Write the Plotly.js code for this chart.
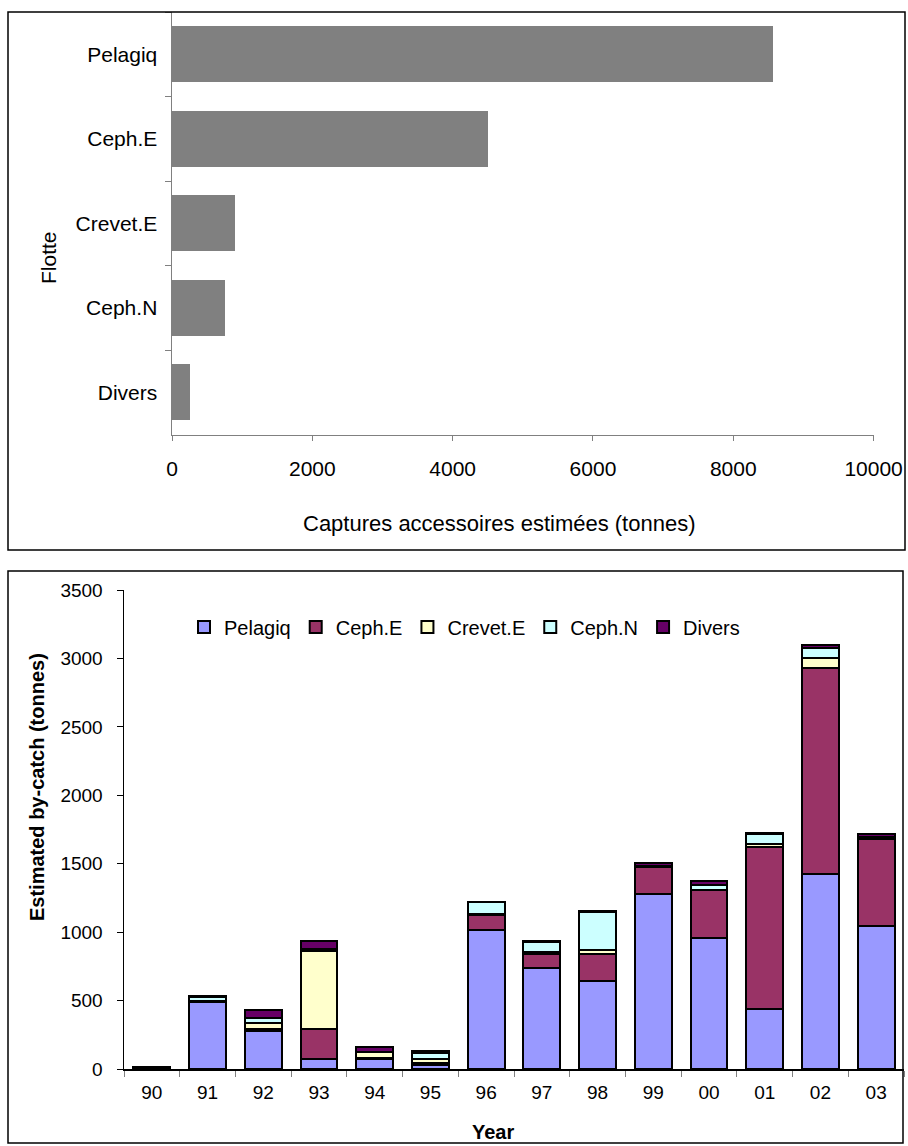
<!DOCTYPE html>
<html>
<head>
<meta charset="utf-8">
<script src="https://cdn.plot.ly/plotly-3.0.1.min.js"></script>
<style>
  html, body { margin: 0; padding: 0; background: #ffffff; }
  #chart { width: 908px; height: 1146px; }
</style>
</head>
<body>
<div id="chart"></div>
<script>
// Fleet totals (upper chart)
const fleets = ['Pelagiq', 'Ceph.E', 'Crevet.E', 'Ceph.N', 'Divers'];
const fleetTotals = [8560, 4510, 895, 750, 262];

// Yearly by-catch per fleet (lower chart)
const years = ['90', '91', '92', '93', '94', '95', '96', '97', '98', '99', '00', '01', '02', '03'];
const pelagiq = [8, 492, 280, 71, 73, 30, 1016, 736, 646, 1279, 955, 436, 1425, 1045];
const cephE   = [4, 3, 10, 219, 5, 12, 109, 104, 194, 195, 351, 1188, 1503, 635];
const crevetE = [0, 0, 45, 574, 44, 32, 5, 15, 30, 5, 3, 20, 73, 5];
const cephN   = [2, 33, 35, 15, 0, 42, 90, 75, 280, 5, 33, 75, 73, 10];
const divers  = [1, 2, 60, 58, 36, 15, 3, 3, 5, 20, 34, 8, 24, 20];

const seriesNames  = ['Pelagiq', 'Ceph.E', 'Crevet.E', 'Ceph.N', 'Divers'];
const seriesValues = [pelagiq, cephE, crevetE, cephN, divers];
const seriesColors = ['#9999FF', '#993366', '#FFFFCC', '#CCFFFF', '#660066'];

const W = 908, H = 1146;
const px = v => v / W;          // pixel -> paper x
const py = v => 1 - v / H;      // pixel -> paper y
const FONT = 'Liberation Sans, Arial, Helvetica, sans-serif';

const traces = [];

traces.push({
  type: 'bar',
  orientation: 'h',
  y: fleets,
  x: fleetTotals,
  xaxis: 'x',
  yaxis: 'y',
  marker: { color: '#808080', line: { width: 0 } },
  showlegend: false,
  hoverinfo: 'skip'
});

seriesNames.forEach((name, i) => {
  traces.push({
    type: 'bar',
    name: name,
    x: years,
    y: seriesValues[i],
    xaxis: 'x2',
    yaxis: 'y2',
    marker: { color: seriesColors[i], line: { color: '#000000', width: 2 } },
    hoverinfo: 'skip'
  });
});

const layout = {
  width: W,
  height: H,
  margin: { l: 0, r: 0, t: 0, b: 0 },
  paper_bgcolor: '#ffffff',
  plot_bgcolor: '#ffffff',
  font: { family: FONT, color: '#000000', size: 19 },
  barmode: 'stack',
  bargap: 0.34,
  showlegend: true,
  legend: {
    orientation: 'h',
    traceorder: 'normal',
    x: px(184),
    xanchor: 'left',
    y: py(627),
    yanchor: 'middle',
    font: { family: FONT, size: 20, color: '#000000' },
    bgcolor: 'rgba(0,0,0,0)'
  },
  // upper chart axes
  xaxis: {
    domain: [px(172), px(873.6)],
    anchor: 'y',
    range: [0, 10000],
    tickvals: [0, 2000, 4000, 6000, 8000, 10000],
    ticktext: ['0', '2000', '4000', '6000', '8000', '10000'],
    showgrid: false,
    zeroline: false,
    showline: true,
    linecolor: '#808080',
    linewidth: 1.5,
    ticks: 'outside',
    ticklen: 5,
    tickcolor: '#808080',
    ticklabelstandoff: 10,
    tickfont: { family: FONT, size: 21, color: '#000000' },
    fixedrange: true
  },
  yaxis: {
    domain: [py(434.6), py(12)],
    anchor: 'x',
    type: 'category',
    autorange: 'reversed',
    showgrid: false,
    zeroline: false,
    showline: true,
    linecolor: '#808080',
    linewidth: 1.5,
    ticks: 'outside',
    tickson: 'boundaries',
    ticklen: 6,
    tickcolor: '#808080',
    ticklabelstandoff: 9,
    tickfont: { family: FONT, size: 21, color: '#000000' },
    fixedrange: true
  },
  // lower chart axes
  xaxis2: {
    domain: [px(124), px(904)],
    anchor: 'y2',
    type: 'category',
    showgrid: false,
    zeroline: false,
    showline: true,
    linecolor: '#000000',
    linewidth: 1.5,
    ticks: 'outside',
    tickson: 'boundaries',
    ticklen: 6,
    tickcolor: '#808080',
    ticklabelstandoff: 6,
    tickfont: { family: FONT, size: 19, color: '#000000' },
    fixedrange: true
  },
  yaxis2: {
    domain: [py(1069), py(590)],
    anchor: 'x2',
    range: [0, 3500],
    dtick: 500,
    tick0: 0,
    showgrid: false,
    zeroline: false,
    showline: true,
    linecolor: '#000000',
    linewidth: 1.5,
    ticks: 'outside',
    ticklen: 6,
    tickcolor: '#000000',
    ticklabelstandoff: 10,
    tickfont: { family: FONT, size: 19, color: '#000000' },
    fixedrange: true
  },
  annotations: [
    {
      text: 'Captures accessoires estimées (tonnes)',
      xref: 'paper', yref: 'paper',
      x: px(500), y: py(523),
      xanchor: 'center', yanchor: 'middle',
      showarrow: false,
      font: { family: FONT, size: 22, color: '#000000' }
    },
    {
      text: 'Flotte',
      xref: 'paper', yref: 'paper',
      x: px(49), y: py(258),
      xanchor: 'center', yanchor: 'middle',
      textangle: -90,
      showarrow: false,
      font: { family: FONT, size: 21, color: '#000000' }
    },
    {
      text: '<b>Estimated by-catch (tonnes)</b>',
      xref: 'paper', yref: 'paper',
      x: px(37), y: py(787),
      xanchor: 'center', yanchor: 'middle',
      textangle: -90,
      showarrow: false,
      font: { family: FONT, size: 20, color: '#000000' }
    },
    {
      text: '<b>Year</b>',
      xref: 'paper', yref: 'paper',
      x: px(493), y: py(1132),
      xanchor: 'center', yanchor: 'middle',
      showarrow: false,
      font: { family: FONT, size: 20, color: '#000000' }
    }
  ],
  shapes: [
    {
      type: 'rect', xref: 'paper', yref: 'paper',
      x0: px(8), x1: px(905), y0: py(550), y1: py(12),
      line: { color: '#000000', width: 1.5 }, fillcolor: 'rgba(0,0,0,0)', layer: 'above'
    },
    {
      type: 'rect', xref: 'paper', yref: 'paper',
      x0: px(8), x1: px(903), y0: py(1143), y1: py(571),
      line: { color: '#000000', width: 1.5 }, fillcolor: 'rgba(0,0,0,0)', layer: 'above'
    }
  ]
};

Plotly.newPlot('chart', traces, layout, { staticPlot: true, displayModeBar: false });
</script>
</body>
</html>
